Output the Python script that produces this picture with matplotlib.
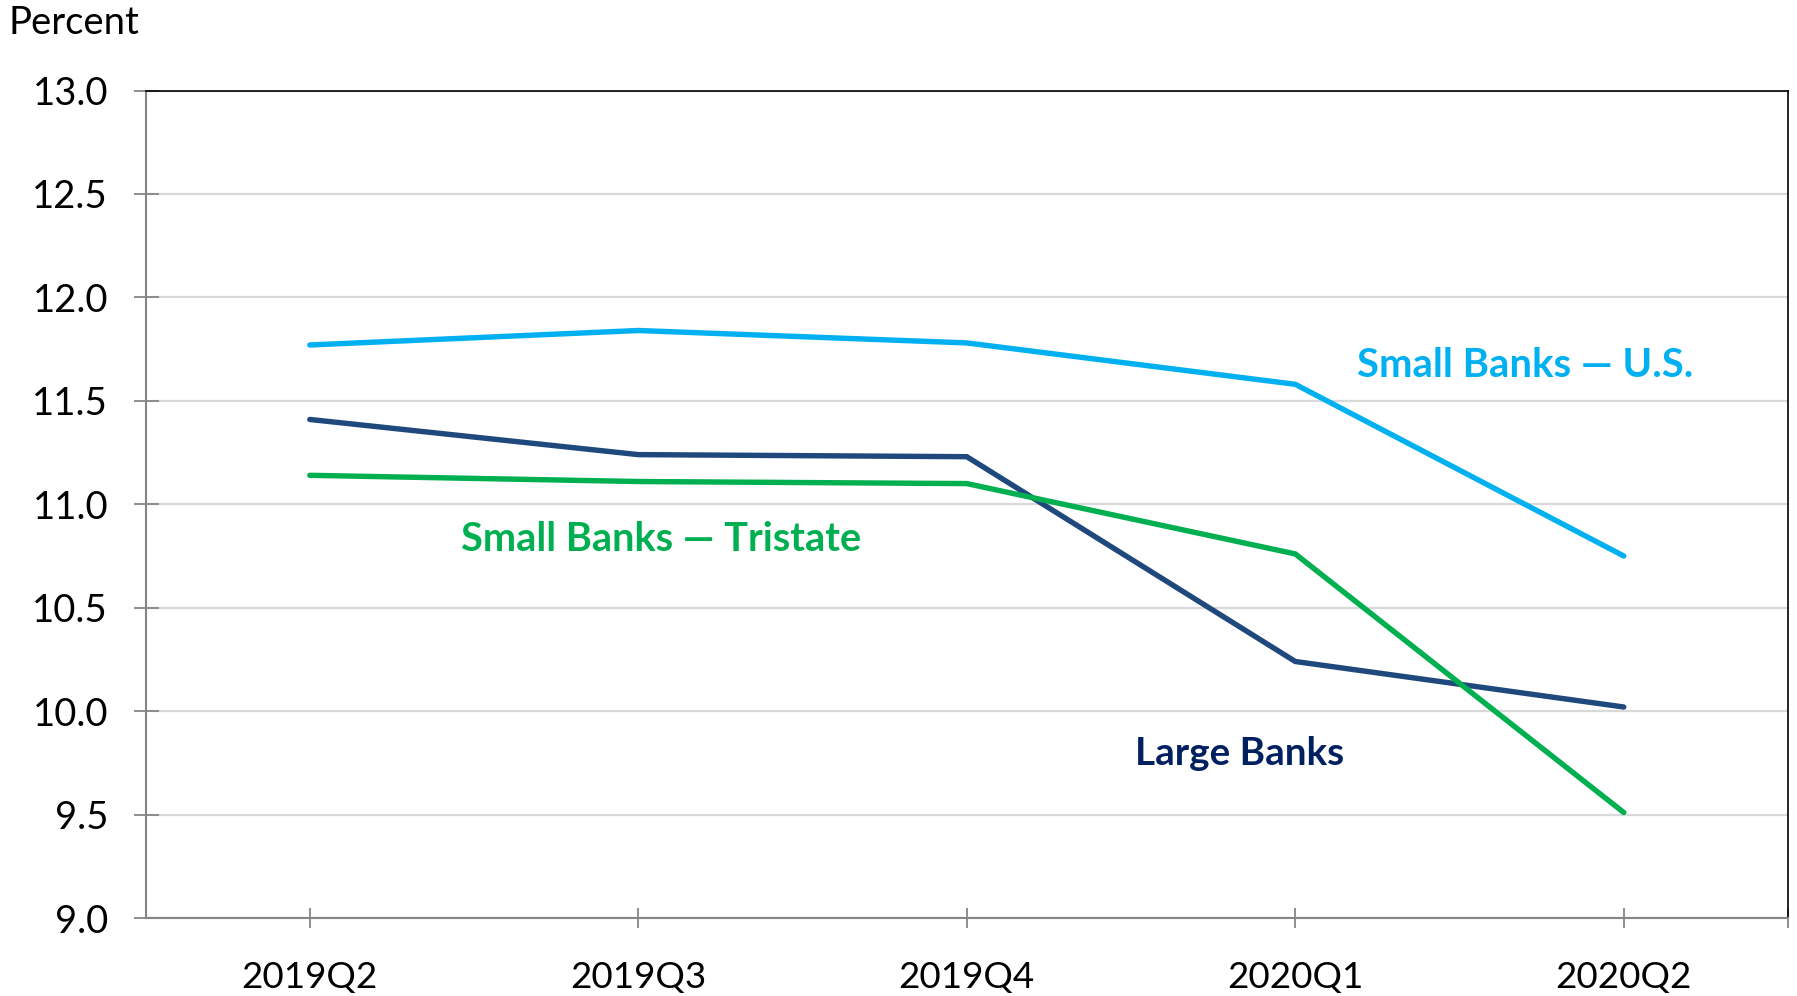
import matplotlib
matplotlib.use("Agg")
import matplotlib.pyplot as plt

# Quarterly series (percent)
quarters = ["2019Q2", "2019Q3", "2019Q4", "2020Q1", "2020Q2"]
small_us = [11.77, 11.84, 11.78, 11.58, 10.75]
large_banks = [11.41, 11.24, 11.23, 10.24, 10.02]
small_tristate = [11.14, 11.11, 11.10, 10.76, 9.51]
y_ticks = [9.0, 9.5, 10.0, 10.5, 11.0, 11.5, 12.0, 12.5, 13.0]

C_US = "#00B0F0"
C_LARGE = "#1F497D"
C_TRI = "#00B050"
C_LARGE_TXT = "#002060"

plt.rcParams["font.family"] = ["Lato", "DejaVu Sans"]

fig = plt.figure(figsize=(17.97, 9.96), dpi=100)
ax = fig.add_axes([0.081, 0.0783, 0.914, 0.8308])

x = list(range(len(quarters)))
lw = 3.9
ax.plot(x, small_us, color=C_US, lw=lw, solid_capstyle="round", solid_joinstyle="miter", zorder=3)
ax.plot(x, large_banks, color=C_LARGE, lw=lw, solid_capstyle="round", solid_joinstyle="miter", zorder=3)
ax.plot(x, small_tristate, color=C_TRI, lw=lw, solid_capstyle="round", solid_joinstyle="miter", zorder=3)

ax.set_xlim(-0.5, 4.5)
ax.set_ylim(9.0, 13.0)
ax.set_yticks(y_ticks)
ax.set_yticklabels([f"{v:.1f}" for v in y_ticks])
ax.set_xticks(x + [4.5])
ax.set_xticklabels(quarters + [""])

ax.grid(axis="y", color="#D9D9D9", lw=1.6, zorder=0)
ax.set_axisbelow(True)

for side in ("left", "bottom"):
    ax.spines[side].set_color("#868686")
    ax.spines[side].set_linewidth(1.5)
for side in ("top", "right"):
    ax.spines[side].set_color("#000000")
    ax.spines[side].set_linewidth(1.2)

ax.tick_params(axis="y", direction="inout", length=18, width=1.3, color="#868686",
               labelsize=27.5, pad=18, labelcolor="black")
ax.tick_params(axis="x", direction="inout", length=14, width=1.3, color="#868686",
               labelsize=26.5, pad=24, labelcolor="black")

# Series labels
ax.text(3.7, 11.67, "Small Banks \u2014 U.S.", color=C_US, fontsize=28.8,
        fontweight="bold", ha="center", va="center")
ax.text(1.07, 10.83, "Small Banks \u2014 Tristate", color=C_TRI, fontsize=28.6,
        fontweight="bold", ha="center", va="center")
ax.text(2.83, 9.795, "Large Banks", color=C_LARGE_TXT, fontsize=27.8,
        fontweight="bold", ha="center", va="center")

fig.text(0.005, 0.977, "Percent", fontsize=27.5, ha="left", va="center", color="black")

fig.savefig("out.png", dpi=100)
